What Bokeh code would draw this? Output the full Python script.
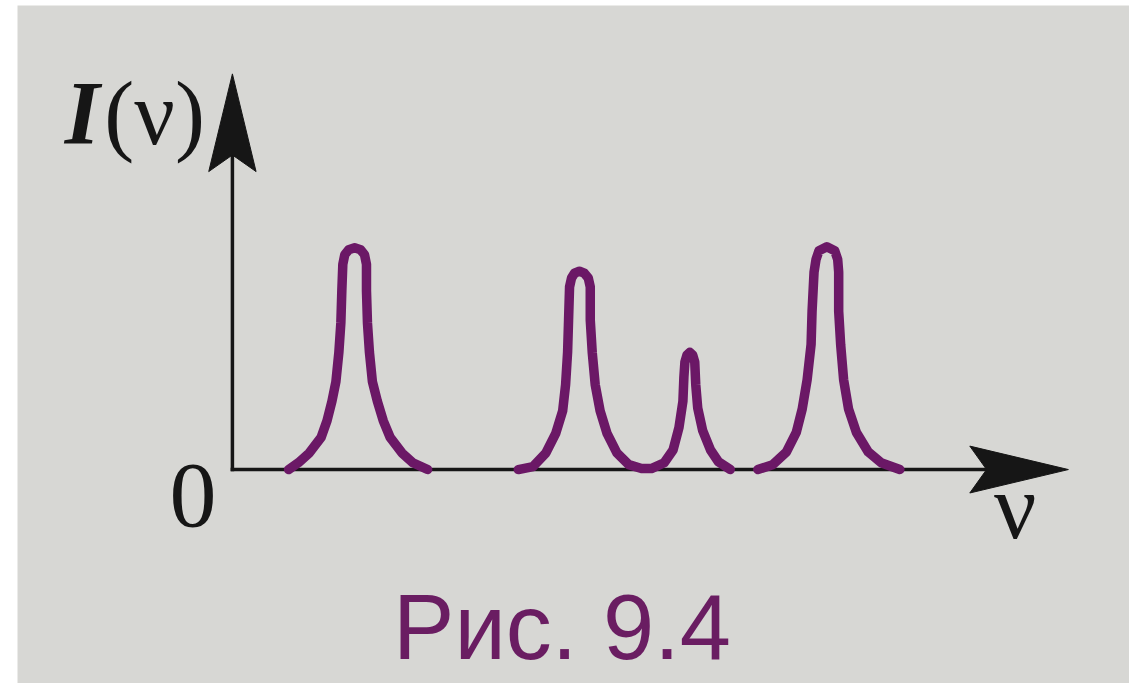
from bokeh.plotting import figure
from bokeh.models import Range1d
from bokeh.embed import file_html
from bokeh.resources import INLINE
from bokeh.core.properties import value

# ---------------- data (arbitrary units) ----------------
# first spectral line
peak1_nu = [0.57, 0.67, 0.78, 0.90, 0.96, 1.01, 1.05, 1.08, 1.10, 1.11, 1.12, 1.14, 1.18, 1.24,
            1.30, 1.34, 1.36, 1.36, 1.37, 1.39, 1.42, 1.47, 1.53, 1.60, 1.72, 1.83, 1.98]
peak1_I = [0.00, 0.07, 0.17, 0.33, 0.50, 0.70, 0.90, 1.20, 1.50, 1.83, 2.10, 2.20, 2.25, 2.27,
           2.25, 2.20, 2.10, 1.83, 1.50, 1.20, 0.90, 0.70, 0.50, 0.33, 0.17, 0.07, 0.00]

# second and third lines (one continuous curve)
peak23_nu = [2.90, 3.05, 3.18, 3.28, 3.35, 3.38, 3.40, 3.41, 3.42, 3.44, 3.47, 3.52, 3.57, 3.61,
             3.63, 3.63, 3.65, 3.68, 3.73, 3.80, 3.90, 4.02, 4.15, 4.25, 4.38, 4.47, 4.53, 4.57,
             4.58, 4.59, 4.61, 4.64, 4.67, 4.69, 4.70, 4.72, 4.77, 4.85, 4.93, 5.05]
peak23_I = [0.00, 0.03, 0.17, 0.37, 0.60, 0.87, 1.20, 1.53, 1.87, 1.96, 2.01, 2.03, 2.01, 1.96,
            1.87, 1.53, 1.20, 0.87, 0.60, 0.37, 0.17, 0.05, 0.01, 0.01, 0.07, 0.20, 0.43, 0.70,
            0.95, 1.10, 1.17, 1.20, 1.17, 1.10, 0.87, 0.63, 0.40, 0.20, 0.08, 0.00]

# fourth line
peak4_nu = [5.33, 5.48, 5.62, 5.72, 5.78, 5.83, 5.87, 5.88, 5.90, 5.92, 5.95, 6.03, 6.11, 6.14,
            6.15, 6.15, 6.17, 6.20, 6.25, 6.33, 6.45, 6.58, 6.77]
peak4_I = [0.00, 0.05, 0.18, 0.38, 0.62, 0.92, 1.28, 1.62, 2.02, 2.15, 2.24, 2.28, 2.24, 2.15,
           2.02, 1.62, 1.28, 0.92, 0.62, 0.38, 0.18, 0.07, 0.00]

# axes extents and labels
axis_nu_end = 8.48
axis_I_end = 4.05
y_label_main = "I"
y_label_arg = "(ν)"
x_label = "ν"
origin_label = "0"
caption = "Рис. 9.4"

# ---------------- style ----------------
PAPER = "#d7d7d4"
INK = "#161616"
PURPLE = "#6b1866"
CAPTION_PURPLE = "#6a1d62"
HEAD_LEN = 1.0
HEAD_HALF = 0.24
HEAD_NOTCH = 0.83

p = figure(width=1129, height=683,
           x_range=Range1d(-2.18, 9.10), y_range=Range1d(-2.19, 4.75),
           output_backend="svg", toolbar_location=None,
           x_axis_location=None, y_axis_location=None,
           min_border_left=17, min_border_right=0, min_border_top=5, min_border_bottom=0,
           border_fill_color="white", background_fill_color=PAPER,
           outline_line_color=None)
p.grid.visible = False

# axis shafts
p.segment(x0=[0, 0], y0=[0, 0],
          x1=[axis_nu_end - HEAD_NOTCH, 0], y1=[0, axis_I_end - HEAD_NOTCH],
          line_color=INK, line_width=3.5, line_cap="square")

# arrow heads (barbed)
p.patches(
    xs=[[axis_nu_end, axis_nu_end - HEAD_LEN, axis_nu_end - HEAD_NOTCH, axis_nu_end - HEAD_LEN],
        [0, -HEAD_HALF, 0, HEAD_HALF]],
    ys=[[0, HEAD_HALF, 0, -HEAD_HALF],
        [axis_I_end, axis_I_end - HEAD_LEN, axis_I_end - HEAD_NOTCH, axis_I_end - HEAD_LEN]],
    fill_color=INK, line_color=INK, line_width=1, line_join="miter")

# spectral lines
for xs, ys in ((peak1_nu, peak1_I), (peak23_nu, peak23_I), (peak4_nu, peak4_I)):
    p.line(xs, ys, line_color=PURPLE, line_width=9.5, line_join="round", line_cap="round")

# labels
serif = value("Liberation Serif")
p.text(x=[-1.70], y=[3.64], text=[y_label_main], text_font=serif,
       text_font_style="bold italic", text_font_size="90px", text_color=INK,
       text_align="left", text_baseline="alphabetic")
p.text(x=[-1.30], y=[3.64], text=[y_label_arg], text_font=serif,
       text_font_size="90px", text_color=INK,
       text_align="left", text_baseline="alphabetic")
p.text(x=[-0.40], y=[-0.27], text=[origin_label], text_font=serif,
       text_font_size="94px", text_color=INK,
       text_align="center", text_baseline="alphabetic")
p.text(x=[7.94], y=[-0.37], text=[x_label], text_font=serif,
       text_font_size="94px", text_color=INK,
       text_align="center", text_baseline="alphabetic")
p.text(x=[1.63], y=[-1.61], text=[caption], text_font=value("Liberation Sans"),
       text_font_size="92px", text_color=CAPTION_PURPLE,
       text_align="left", text_baseline="alphabetic")

open("out.html", "w").write(file_html(p, INLINE))
